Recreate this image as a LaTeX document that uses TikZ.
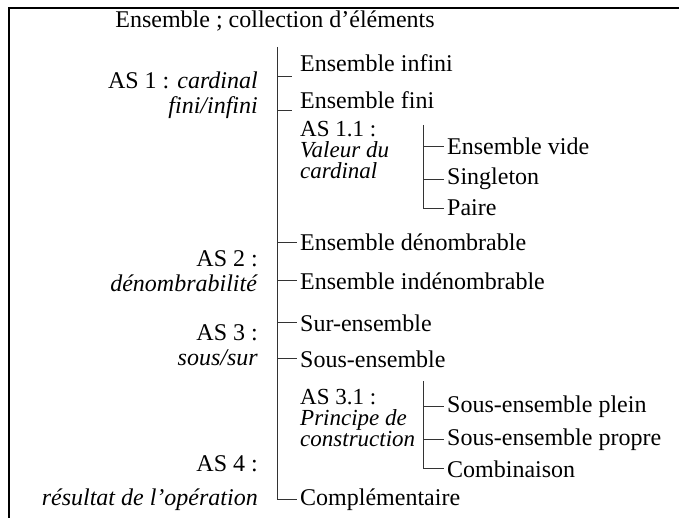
\documentclass[tikz,border=0pt]{standalone}
\usepackage{fontspec}
\setmainfont{Liberation Serif}
\begin{document}
\begin{tikzpicture}[x=1pt,y=-1pt,
    every node/.style={font=\fontsize{24}{25}\selectfont, inner sep=0pt},
    item/.style={anchor=base west},
    aspect/.style={anchor=base east, align=right},
    subaspect/.style={anchor=base west, align=left, font=\fontsize{23}{21}\selectfont},
    tree/.style={draw=black!80, line width=0.9pt},
    frame/.style={line width=1.8pt}]
    \useasboundingbox (0,0) rectangle (679,518);

    % Frame
    \draw[frame] (9,518) -- (9,8) -- (679,8);

    % Title
    \node[anchor=base] (title) at (275,28) {Ensemble ; collection d'éléments};

    % Aspects on the left
    \node[aspect] (as1) at (258,114) {AS 1 : \textit{cardinal}\\\textit{fini/infini}};
    \node[aspect] (as2) at (258,291) {AS 2 :\\\textit{dénombrabilité}};
    \node[aspect] (as3) at (258,365) {AS 3 :\\\textit{sous/sur}};
    \node[aspect] (as4) at (258,505) {AS 4 :\\[9pt]\textit{résultat de l'opération}};

    % Main branch
    \coordinate (top) at (277,47);
    \node[item] (infini) at (300,72) {Ensemble infini};
    \node[item] (fini) at (300,109) {Ensemble fini};
    \node[subaspect] (as11) at (300,179) {AS 1.1 :\\\textit{Valeur du}\\\textit{cardinal}};
    \node[item] (dnb) at (300,251) {Ensemble dénombrable};
    \node[item] (indnb) at (300,289) {Ensemble indénombrable};
    \node[item] (sur) at (300,331) {Sur-ensemble};
    \node[item] (sous) at (300,367) {Sous-ensemble};
    \node[subaspect] (as31) at (300,446) {AS 3.1 :\\\textit{Principe de}\\\textit{construction}};
    \node[item] (compl) at (300,505) {Complémentaire};

    \draw[tree] (top) |- ([xshift=-3pt]compl.west);
    \draw[tree] (top |- infini.base) ++(0,4) -- ([xshift=-8pt,yshift=-4pt]infini.base west);
    \draw[tree] (top |- fini.base) ++(0,1) -- ([xshift=-8pt,yshift=-1pt]fini.base west);
    \foreach \n in {dnb,indnb,sur,sous}
        \draw[tree] (top |- \n.west) -- ([xshift=-3pt]\n.west);

    % Sub-branch AS 1.1
    \coordinate (top11) at (423,125);
    \node[item] (vide) at (447,155) {Ensemble vide};
    \node[item] (single) at (447,185) {Singleton};
    \node[item] (paire) at (447,216) {Paire};
    \draw[tree] (top11) |- ([xshift=-3pt]paire.west);
    \draw[tree] (top11 |- vide.west) -- ([xshift=-3pt]vide.west);
    \draw[tree] (top11 |- single.west) -- ([xshift=-3pt]single.west);

    % Sub-branch AS 3.1
    \coordinate (top31) at (423,381);
    \node[item] (plein) at (447,412) {Sous-ensemble plein};
    \node[item] (propre) at (447,445) {Sous-ensemble propre};
    \node[item] (comb) at (447,477) {Combinaison};
    \draw[tree] (top31) |- ([xshift=-3pt]comb.west);
    \draw[tree] (top31 |- plein.west) -- ([xshift=-3pt]plein.west);
    \draw[tree] (top31 |- propre.west) -- ([xshift=-3pt]propre.west);
\end{tikzpicture}
\end{document}
